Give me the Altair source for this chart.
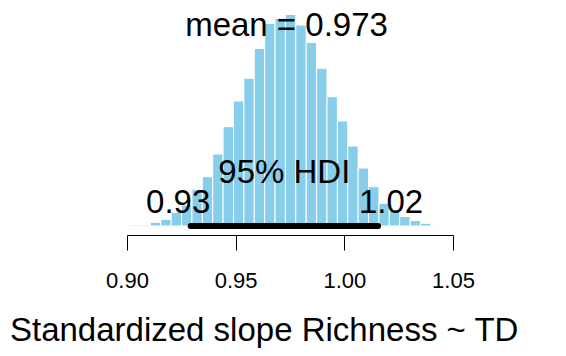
import altair as alt
import pandas as pd

# Histogram of posterior sample (bar heights, arbitrary units)
bin_start = 0.9012
bin_width = 0.00478
heights = [1, 1, 3.7, 6.7, 13.7, 21, 36.7, 49.3, 72, 99.3, 125, 147.7, 177.5,
           202.5, 207.7, 211.5, 201, 183.5, 157.7, 129.3, 105, 80, 58, 39.3,
           22.7, 16, 9.5, 5.5, 2.7, 0.7]
mean_val = 0.9734
hdi_low, hdi_high = 0.9293, 1.0155
x_ticks = [0.90, 0.95, 1.00, 1.05]
x_title = "Standardized slope Richness ~ TD"

bars = pd.DataFrame({
    "x0": [bin_start + i * bin_width for i in range(len(heights))],
    "x1": [bin_start + (i + 1) * bin_width for i in range(len(heights))],
    "h": heights,
})

FONT = "Liberation Sans"
xscale = alt.Scale(domain=[0.90, 1.05], nice=False, zero=False)
yscale = alt.Scale(domain=[0, 218], nice=False, zero=True)

hist = alt.Chart(bars).mark_rect(color="#87CEEB", stroke="white", strokeWidth=1).encode(
    x=alt.X("x0:Q", scale=xscale,
            axis=alt.Axis(values=x_ticks, format=".2f", title=x_title,
                          offset=9, tickSize=15, tickColor="black", tickWidth=1,
                          domainColor="black", domainWidth=1, grid=False,
                          labelFont=FONT, labelFontSize=22, labelColor="black",
                          labelBaseline="alphabetic", labelPadding=37,
                          labelFlush=False,
                          titleFont=FONT, titleFontSize=33, titleFontWeight="normal",
                          titleColor="black", titleX=136.7, titleY=105,
                          titleBaseline="alphabetic", titleAlign="center")),
    x2="x1:Q",
    y=alt.Y("h:Q", scale=yscale, axis=None),
    y2=alt.datum(0),
)

mean_df = pd.DataFrame({"x": [mean_val], "y": [0.9 * max(heights)],
                        "label": [f"mean = {mean_val:.3f}"]})
mean_text = alt.Chart(mean_df).mark_text(font=FONT, fontSize=33, baseline="alphabetic",
                                         align="center", color="black").encode(
    x=alt.X("x:Q", scale=xscale), y=alt.Y("y:Q", scale=yscale), text="label:N")

hdi_df = pd.DataFrame({"lo": [hdi_low], "hi": [hdi_high], "y": [0],
                       "mid": [(hdi_low + hdi_high) / 2]})
hdi_line = alt.Chart(hdi_df).mark_rule(color="black", strokeWidth=6, strokeCap="round").encode(
    x=alt.X("lo:Q", scale=xscale), x2="hi:Q", y=alt.Y("y:Q", scale=yscale))

hdi_text = alt.Chart(hdi_df).mark_text(font=FONT, fontSize=33, baseline="alphabetic",
                                       align="center", dy=-43, color="black").encode(
    x=alt.X("mid:Q", scale=xscale), y=alt.Y("y:Q", scale=yscale), text=alt.value("95% HDI"))

lo_df = pd.DataFrame({"x": [hdi_low], "y": [0], "label": [f"{hdi_low:.2f}"]})
hi_df = pd.DataFrame({"x": [hdi_high], "y": [0], "label": [f"{hdi_high:.2f}"]})
lo_text = alt.Chart(lo_df).mark_text(font=FONT, fontSize=33, baseline="alphabetic",
                                     align="center", dx=-12.5, dy=-13, color="black").encode(
    x=alt.X("x:Q", scale=xscale), y=alt.Y("y:Q", scale=yscale), text="label:N")
hi_text = alt.Chart(hi_df).mark_text(font=FONT, fontSize=33, baseline="alphabetic",
                                     align="center", dx=13, dy=-13, color="black").encode(
    x=alt.X("x:Q", scale=xscale), y=alt.Y("y:Q", scale=yscale), text="label:N")

chart = alt.layer(hist, hdi_line, mean_text, hdi_text, lo_text, hi_text).properties(
    width=326, height=218,
    background="white",
    autosize=alt.AutoSizeParams(type="none"),
    padding={"left": 119, "top": 0, "right": 104, "bottom": 122},
).configure_view(stroke="transparent", strokeWidth=0)

chart.save("out.html", embed_options={"renderer": "svg", "actions": False})
